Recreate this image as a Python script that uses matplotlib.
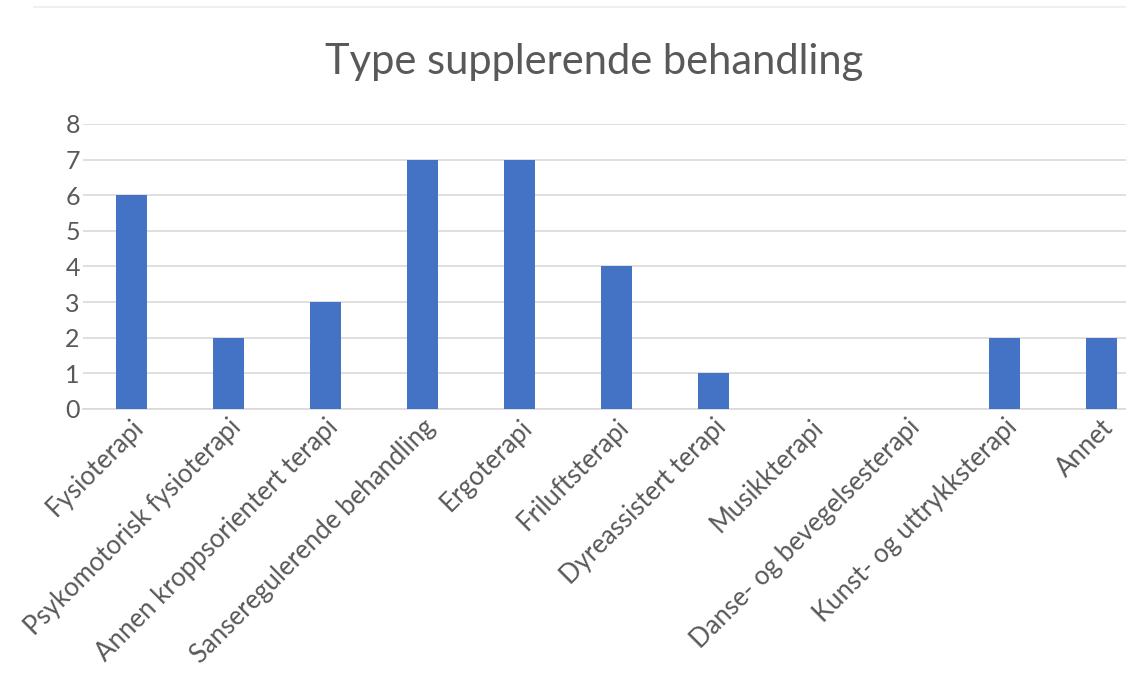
import matplotlib
matplotlib.use("Agg")
import matplotlib.pyplot as plt

categories = [
    "Fysioterapi",
    "Psykomotorisk fysioterapi",
    "Annen kroppsorientert terapi",
    "Sanseregulerende behandling",
    "Ergoterapi",
    "Friluftsterapi",
    "Dyreassistert terapi",
    "Musikkterapi",
    "Danse- og bevegelsesterapi",
    "Kunst- og uttrykksterapi",
    "Annet",
]
counts = [6, 2, 3, 7, 7, 4, 1, 0, 0, 2, 2]
y_ticks = [0, 1, 2, 3, 4, 5, 6, 7, 8]

plt.rcParams["font.family"] = ["Lato", "DejaVu Sans"]
text_color = "#595959"
grid_color = "#d9d9d9"

fig = plt.figure(figsize=(11.26, 6.97), dpi=100)
ax = fig.add_axes([0.0733, 0.4132, 0.9476, 0.4089])

x = range(len(categories))
ax.bar(x, counts, width=0.32, color="#4472c4", zorder=3)

ax.set_xlim(-0.5, len(categories) - 0.5)
ax.set_ylim(0, 8)
ax.set_yticks(y_ticks)
ax.set_yticklabels([str(v) for v in y_ticks], fontsize=18, color=text_color)
ax.set_xticks(list(x))
ax.set_xticklabels(categories, rotation=45, ha="right", rotation_mode="anchor",
                   fontsize=18.5, color=text_color)

ax.yaxis.grid(True, color=grid_color, linewidth=1.2, zorder=0)
ax.tick_params(axis="both", length=0)
ax.tick_params(axis="y", pad=2)
ax.tick_params(axis="x", pad=4)
for side in ["top", "right", "left"]:
    ax.spines[side].set_visible(False)
ax.spines["bottom"].set_color(grid_color)
ax.spines["bottom"].set_linewidth(1.2)

fig.text(0.528, 0.911, "Type supplerende behandling", ha="center", va="center",
         fontsize=30, color=text_color)

# faint frame edge at the top of the chart area
fig.add_artist(plt.Line2D([0.03, 1.0], [0.99, 0.99], color="#f0f0f0", linewidth=1.5))

fig.savefig("out.png", dpi=100)
